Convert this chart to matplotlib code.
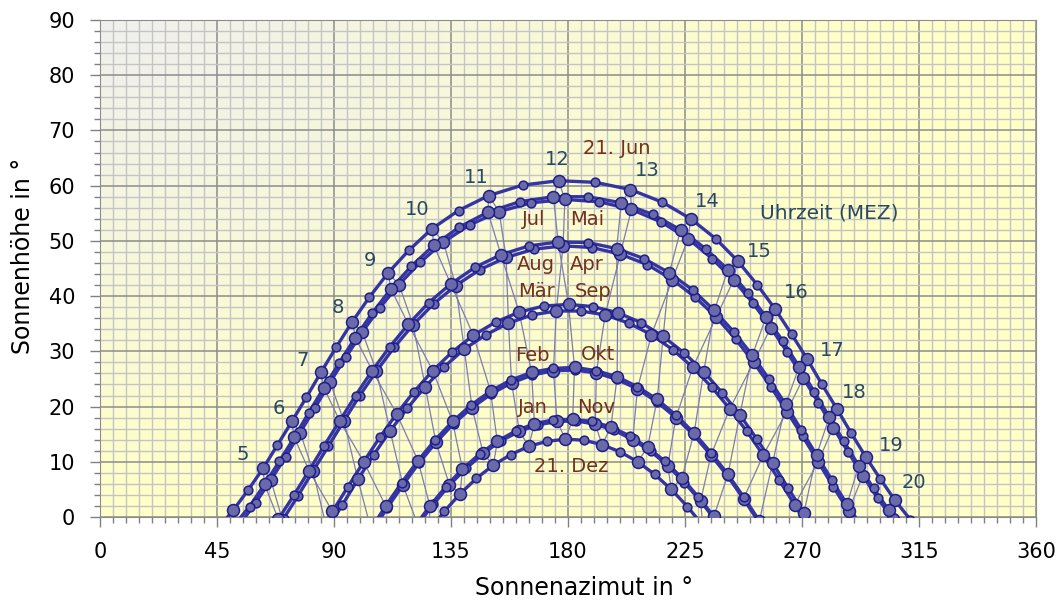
import numpy as np
import matplotlib
matplotlib.use("Agg")
import matplotlib.pyplot as plt

# ---------------- data ----------------
# Sun path on the 21st of each month, a point every 30 minutes (MEZ).
# start_time = clock time (MEZ, hours) of the first point of each series.
months = ['Jan', 'Feb', 'Mär', 'Apr', 'Mai', 'Jun', 'Jul', 'Aug', 'Sep', 'Okt', 'Nov', 'Dez']
start_time = [8.0, 7.0, 6.0, 5.0, 4.0, 3.5, 4.0, 5.0, 5.5, 6.5, 7.5, 8.0]

az_jan = [122.2, 128.2, 134.4, 140.8, 147.4, 154.2, 161.3, 168.5, 175.8, 183.2, 190.5, 197.8, 204.9, 211.8, 218.4, 224.8, 231.0, 237.0]
el_jan = [-1.4, 2.3, 5.8, 8.8, 11.5, 13.8, 15.5, 16.7, 17.3, 17.4, 16.8, 15.7, 14.0, 11.9, 9.3, 6.2, 2.9, -0.8]

az_feb = [104.5, 110.4, 116.5, 122.7, 129.2, 136.0, 143.1, 150.5, 158.3, 166.3, 174.4, 182.6, 190.9, 198.9, 206.7, 214.3, 221.5, 228.4, 235.0, 241.4, 247.5, 253.5]
el_feb = [-2.7, 1.6, 5.8, 9.8, 13.5, 16.9, 19.8, 22.3, 24.3, 25.7, 26.5, 26.6, 26.1, 24.9, 23.2, 20.8, 18.0, 14.8, 11.2, 7.4, 3.3, -1.0]

az_mar = [87.3, 93.2, 99.2, 105.3, 111.6, 118.2, 125.1, 132.4, 140.1, 148.4, 157.1, 166.2, 175.5, 184.9, 194.3, 203.4, 212.1, 220.3, 228.0, 235.3, 242.2, 248.8, 255.1, 261.2, 267.2, 273.2]
el_mar = [-2.3, 2.2, 6.8, 11.3, 15.6, 19.7, 23.6, 27.2, 30.4, 33.0, 35.1, 36.6, 37.3, 37.3, 36.6, 35.1, 33.0, 30.3, 27.1, 23.5, 19.6, 15.5, 11.2, 6.7, 2.2, -2.4]

az_apr = [70.2, 76.1, 81.9, 87.8, 93.8, 99.9, 106.3, 113.1, 120.4, 128.3, 136.8, 146.1, 156.2, 166.9, 178.1, 189.2, 200.1, 210.5, 220.1, 228.9, 237.0, 244.5, 251.4, 258.0, 264.2, 270.3, 276.2, 282.0, 287.9, 293.9]
el_apr = [-0.6, 3.8, 8.3, 12.8, 17.4, 22.0, 26.4, 30.7, 34.8, 38.6, 41.9, 44.8, 47.0, 48.5, 49.1, 48.8, 47.6, 45.7, 43.0, 39.8, 36.2, 32.2, 28.0, 23.6, 19.1, 14.6, 10.0, 5.5, 1.1, -3.2]

az_mai = [54.0, 59.9, 65.7, 71.4, 77.0, 82.7, 88.5, 94.5, 100.9, 107.6, 115.0, 123.1, 132.1, 142.2, 153.5, 165.9, 178.8, 191.9, 204.4, 215.9, 226.2, 235.4, 243.7, 251.2, 258.0, 264.4, 270.5, 276.3, 282.0, 287.7, 293.4, 299.1, 305.0]
el_mai = [-1.2, 2.6, 6.7, 10.9, 15.3, 19.8, 24.4, 28.9, 33.5, 37.9, 42.1, 46.1, 49.8, 52.9, 55.3, 56.9, 57.5, 57.1, 55.7, 53.4, 50.4, 46.8, 42.9, 38.7, 34.3, 29.8, 25.2, 20.7, 16.2, 11.8, 7.5, 3.4, -0.4]

az_jun = [45.2, 51.2, 57.0, 62.7, 68.2, 73.8, 79.4, 85.0, 90.9, 97.1, 103.6, 110.8, 118.8, 127.7, 137.9, 149.5, 162.5, 176.4, 190.5, 204.0, 216.3, 227.2, 236.8, 245.2, 252.7, 259.6, 266.0, 272.0, 277.7, 283.4, 288.9, 294.5, 300.1, 305.8, 311.7]
el_jun = [-2.2, 1.2, 4.9, 8.8, 13.0, 17.3, 21.7, 26.2, 30.8, 35.4, 39.8, 44.2, 48.3, 52.2, 55.5, 58.2, 60.1, 60.9, 60.6, 59.3, 57.0, 54.0, 50.4, 46.4, 42.1, 37.7, 33.1, 28.6, 24.0, 19.6, 15.2, 10.9, 6.9, 3.0, -0.5]

az_jul = [51.6, 57.5, 63.3, 69.0, 74.7, 80.3, 86.1, 92.0, 98.2, 104.8, 111.9, 119.7, 128.4, 138.2, 149.2, 161.4, 174.4, 187.6, 200.5, 212.5, 223.3, 232.9, 241.5, 249.2, 256.2, 262.7, 268.9, 274.8, 280.5, 286.1, 291.8, 297.5, 303.3, 309.3]
el_jul = [-1.5, 1.9, 5.9, 10.1, 14.4, 18.9, 23.4, 27.9, 32.5, 37.0, 41.3, 45.4, 49.2, 52.5, 55.2, 57.1, 58.0, 58.0, 56.9, 54.8, 52.0, 48.6, 44.8, 40.6, 36.2, 31.8, 27.2, 22.6, 18.1, 13.7, 9.3, 5.2, 1.3, -2.4]

az_aug = [68.6, 74.5, 80.4, 86.2, 92.2, 98.3, 104.7, 111.4, 118.6, 126.4, 134.9, 144.2, 154.2, 165.0, 176.2, 187.6, 198.7, 209.2, 219.0, 228.0, 236.3, 243.8, 250.9, 257.4, 263.7, 269.7, 275.6, 281.5, 287.3, 293.3]
el_aug = [-0.4, 3.9, 8.4, 12.9, 17.4, 22.0, 26.5, 30.8, 34.9, 38.8, 42.2, 45.2, 47.5, 49.1, 49.8, 49.7, 48.6, 46.8, 44.2, 41.1, 37.4, 33.5, 29.3, 24.9, 20.4, 15.8, 11.2, 6.7, 2.3, -2.0]

az_sep = [83.4, 89.4, 95.4, 101.4, 107.6, 114.1, 120.8, 128.0, 135.5, 143.6, 152.2, 161.2, 170.6, 180.2, 189.7, 199.1, 208.1, 216.6, 224.7, 232.2, 239.3, 246.1, 252.5, 258.7, 264.7, 270.7, 276.6]
el_sep = [-3.6, 1.0, 5.5, 10.0, 14.4, 18.7, 22.7, 26.5, 29.9, 32.9, 35.3, 37.1, 38.2, 38.5, 38.1, 37.0, 35.2, 32.7, 29.7, 26.3, 22.5, 18.5, 14.2, 9.8, 5.2, 0.7, -3.9]

az_okt = [104.0, 109.9, 116.0, 122.3, 128.8, 135.6, 142.8, 150.2, 158.0, 166.0, 174.2, 182.5, 190.8, 198.9, 206.7, 214.3, 221.6, 228.5, 235.1, 241.5, 247.6, 253.6]
el_okt = [-2.3, 2.0, 6.2, 10.2, 13.9, 17.3, 20.3, 22.8, 24.8, 26.2, 26.9, 27.1, 26.5, 25.4, 23.6, 21.3, 18.4, 15.2, 11.6, 7.7, 3.6, -0.7]

az_nov = [120.9, 126.9, 133.0, 139.4, 146.0, 152.8, 159.9, 167.1, 174.4, 181.8, 189.2, 196.5, 203.7, 210.6, 217.3, 223.8, 230.0, 236.1, 241.9]
el_nov = [-1.8, 2.0, 5.5, 8.7, 11.4, 13.7, 15.6, 16.9, 17.6, 17.7, 17.3, 16.3, 14.7, 12.6, 10.1, 7.1, 3.7, 0.1, -3.8]

az_dez = [126.5, 132.4, 138.5, 144.8, 151.3, 158.0, 164.9, 171.9, 179.0, 186.1, 193.1, 200.0, 206.8, 213.4, 219.7, 225.9, 231.8]
el_dez = [-2.6, 1.0, 4.2, 7.0, 9.4, 11.3, 12.8, 13.7, 14.1, 13.9, 13.1, 11.8, 10.0, 7.7, 5.0, 1.9, -1.5]

azimuths = [az_jan, az_feb, az_mar, az_apr, az_mai, az_jun, az_jul, az_aug, az_sep, az_okt, az_nov, az_dez]
elevations = [el_jan, el_feb, el_mar, el_apr, el_mai, el_jun, el_jul, el_aug, el_sep, el_okt, el_nov, el_dez]

hour_labels = ['5', '6', '7', '8', '9', '10', '11', '12', '13', '14', '15', '16', '17', '18', '19', '20']
month_labels = ['21. Jun', 'Jul', 'Mai', 'Aug', 'Apr', 'Mär', 'Sep', 'Feb', 'Okt', 'Jan', 'Nov', '21. Dez']
x_ticks = [0, 45, 90, 135, 180, 225, 270, 315, 360]
y_ticks = [0, 10, 20, 30, 40, 50, 60, 70, 80, 90]

# ---------------- layout / style ----------------
hour_label_pos = [(55.0, 11.4), (68.8, 19.7), (78.1, 28.4), (91.5, 38.0), (103.8, 46.4), (121.9, 55.6),
                  (144.6, 61.4), (175.8, 64.7), (210.4, 62.7), (233.5, 57.1), (253.6, 48.0), (267.7, 40.6),
                  (281.5, 30.1), (290.0, 22.6), (304.2, 12.9), (313.1, 6.3)]
month_label_pos = [(198.8, 66.7), (166.9, 53.8), (187.3, 53.8), (167.7, 45.7), (187.3, 45.7),
                   (167.7, 40.8), (189.6, 40.8), (166.2, 29.3), (191.5, 29.5), (166.5, 19.9),
                   (190.8, 19.9), (181.2, 9.1)]

LINE_C = '#3434a2'
FACE_C = '#6a6aa8'
EDGE_C = '#1e1e8c'
HOURLINE_C = '#7c7cb2'
HOUR_TXT_C = '#284863'
MONTH_TXT_C = '#74301f'

fig = plt.figure(figsize=(10.6, 6.05), dpi=100)
ax = fig.add_axes([100/1060, 1-517/605, 936/1060, 497/605])

# background gradient (grey top-left -> pale yellow)
u = np.linspace(0, 1, 300); w = np.linspace(0, 1, 200)
U, W = np.meshgrid(u, w)
s = np.clip(np.sqrt((U*1.1)**2 + (W*0.9)**2)/0.85, 0, 1)
gray = np.array([0.94, 0.94, 0.935]); yel = np.array([1.0, 1.0, 0.785])
img = gray*(1-s[..., None]) + yel*s[..., None]
ax.imshow(img, extent=[0, 360, 0, 90], origin='upper', aspect='auto', zorder=-2)

ax.set_xlim(0, 360); ax.set_ylim(0, 90)
ax.set_xticks(x_ticks); ax.set_xticks(np.arange(0, 361, 5), minor=True)
ax.set_yticks(y_ticks); ax.set_yticks(np.arange(0, 91, 2), minor=True)
ax.grid(which='minor', color='#c4c4c4', lw=1.0)
ax.grid(which='major', color='#8c8c8c', lw=1.1)
ax.set_axisbelow(True)
for sp in ax.spines.values():
    sp.set_color('#8c8c8c')
ax.tick_params(which='both', direction='out', color='#808080', labelsize=15)
ax.tick_params(which='major', length=7, width=1, pad=11)
ax.tick_params(which='minor', length=4, width=1)

# daily sun paths
times = []
for A, h, t0 in zip(azimuths, elevations, start_time):
    A = np.asarray(A); h = np.asarray(h)
    tt = t0 + 0.5*np.arange(len(A))
    times.append(tt)
    ax.plot(A, h, '-', color=LINE_C, lw=2.4, zorder=3)
    full = (tt % 1) == 0
    ax.plot(A[~full], h[~full], 'o', ms=6.3, mfc=FACE_C, mec=EDGE_C, mew=1.1, zorder=4, ls='none')
    ax.plot(A[full], h[full], 'o', ms=8.6, mfc=FACE_C, mec=EDGE_C, mew=1.1, zorder=4, ls='none')

# hour lines (analemma) joining the same clock time through the year
for hr in range(4, 21):
    xs, ys = [], []
    for k in list(range(12)) + [0]:
        idx = np.where(times[k] == hr)[0]
        if len(idx):
            xs.append(azimuths[k][idx[0]]); ys.append(elevations[k][idx[0]])
        else:
            xs.append(np.nan); ys.append(np.nan)
    ax.plot(xs, ys, '-', color=HOURLINE_C, lw=0.9, zorder=2)

for lab, (x, y) in zip(hour_labels, hour_label_pos):
    ax.text(x, y, lab, color=HOUR_TXT_C, fontsize=14, ha='center', va='center', zorder=5)
ax.text(280.4, 55.1, 'Uhrzeit (MEZ)', color=HOUR_TXT_C, fontsize=14.5, ha='center', va='center', zorder=5)
for lab, (x, y) in zip(month_labels, month_label_pos):
    ax.text(x, y, lab, color=MONTH_TXT_C, fontsize=14, ha='center', va='center', zorder=5)

fig.text(584/1060, 1-588/605, 'Sonnenazimut in °', ha='center', va='center', fontsize=17)
fig.text(23/1060, 1-256/605, 'Sonnenhöhe in °', ha='center', va='center', fontsize=17, rotation=90)
fig.savefig('out.png', dpi=100)
